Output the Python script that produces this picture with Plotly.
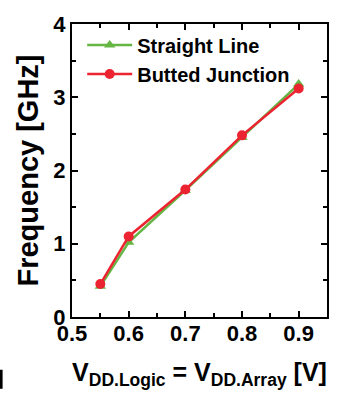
import plotly.graph_objects as go

vdd = [0.55, 0.6, 0.7, 0.8, 0.9]
straight_line = [0.42, 1.02, 1.73, 2.45, 3.18]
butted_junction = [0.45, 1.10, 1.74, 2.48, 3.12]
x_ticks = [0.5, 0.6, 0.7, 0.8, 0.9]
x_tick_labels = ["0.5", "0.6", "0.7", "0.8", "0.9"]
y_ticks = [0, 1, 2, 3, 4]
y_tick_labels = ["0", "1", "2", "3", "4"]

GREEN = "#66b644"
RED = "#ec2330"
FONT = "Liberation Sans, Arial, sans-serif"

fig = go.Figure()
fig.add_trace(go.Scatter(
    x=vdd, y=straight_line, name="Straight Line", mode="lines+markers",
    line=dict(color=GREEN, width=2.5),
    marker=dict(symbol="triangle-up", size=10, color=GREEN),
))
fig.add_trace(go.Scatter(
    x=vdd, y=butted_junction, name="Butted Junction", mode="lines+markers",
    line=dict(color=RED, width=2.5),
    marker=dict(symbol="circle", size=10, color=RED),
))

axis_common = dict(
    showline=True, linecolor="black", linewidth=2, mirror="ticks",
    ticks="inside", ticklen=6, tickwidth=1.5, tickcolor="black",
    showgrid=False, zeroline=False,
    tickfont=dict(family=FONT, size=22, color="black", weight="bold"),
)

fig.update_layout(
    width=347, height=394,
    margin=dict(l=72, r=20, t=20, b=75),
    paper_bgcolor="white", plot_bgcolor="white",
    showlegend=True,
    legend=dict(
        x=0.04, y=0.995, xanchor="left", yanchor="top",
        bgcolor="rgba(0,0,0,0)", borderwidth=0,
        font=dict(family=FONT, size=20, color="black", weight="bold"),
        itemwidth=45, tracegroupgap=0,
    ),
    xaxis=dict(
        range=[0.5, 0.95], tickvals=x_ticks, ticktext=x_tick_labels,
        ticklabelstandoff=-4,
        minor=dict(dtick=0.05, tick0=0.5, ticks="inside", ticklen=4, tickcolor="black"),
        title=dict(
            text="V<sub>DD.Logic</sub> = V<sub>DD.Array</sub> [V]",
            font=dict(family=FONT, size=25, color="black", weight="bold"),
            standoff=18,
        ),
        **axis_common,
    ),
    yaxis=dict(
        range=[0, 4], tickvals=y_ticks, ticktext=y_tick_labels,
        minor=dict(dtick=0.5, tick0=0, ticks="inside", ticklen=4, tickcolor="black"),
        title=dict(
            text="Frequency [GHz]",
            font=dict(family=FONT, size=29, color="black", weight="bold"),
            standoff=6,
        ),
        **axis_common,
    ),
    shapes=[
        # sliver of a neighbouring panel's bracket at the left page edge
        dict(type="line", xref="paper", yref="paper",
             x0=-0.278, x1=-0.278, y0=-0.18, y1=-0.245,
             line=dict(color="black", width=3)),
    ],
)

fig.write_html("out.html")
